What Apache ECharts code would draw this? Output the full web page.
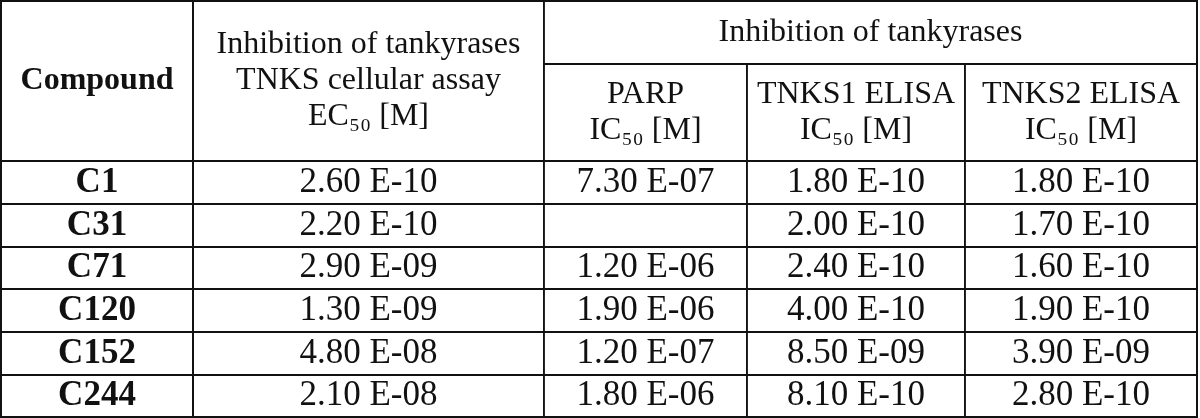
<!DOCTYPE html>
<html>
<head>
<meta charset="utf-8">
<script src="https://cdn.jsdelivr.net/npm/echarts@6/dist/echarts.min.js"></script>
<style>html,body{margin:0;padding:0;background:#fff}#c{width:1200px;height:418px}</style>
</head>
<body>
<div id="c"></div>
<script>
// ---- data ----
var compounds = ['C1', 'C31', 'C71', 'C120', 'C152', 'C244'];
var cellularEC50 = ['2.60 E-10', '2.20 E-10', '2.90 E-09', '1.30 E-09', '4.80 E-08', '2.10 E-08'];
var parpIC50 = ['7.30 E-07', '', '1.20 E-06', '1.90 E-06', '1.20 E-07', '1.80 E-06'];
var tnks1IC50 = ['1.80 E-10', '2.00 E-10', '2.40 E-10', '4.00 E-10', '8.50 E-09', '8.10 E-10'];
var tnks2IC50 = ['1.80 E-10', '1.70 E-10', '1.60 E-10', '1.90 E-10', '3.90 E-09', '2.80 E-10'];
var cornerLabel = 'Compound';
var cellularHeader = 'Inhibition of tankyrases\nTNKS cellular assay\nEC\u2085\u2080 [M]';
var groupHeader = 'Inhibition of tankyrases';
var subHeaders = ['PARP\nIC\u2085\u2080 [M]', 'TNKS1 ELISA\nIC\u2085\u2080 [M]', 'TNKS2 ELISA\nIC\u2085\u2080 [M]'];

// ---- layout / style ----
var SERIF = '"Liberation Serif", "DejaVu Serif", "Times New Roman", serif';
var INK = '#111';
var colSizes = [351, 203, 218, 232];
var levelSizes = [63, 97];
var BORDER = {color: '#fff', borderColor: INK, borderWidth: 1.8};
var LINE = {color: INK, width: 1.8};

var columns = [cellularEC50, parpIC50, tnks1IC50, tnks2IC50];
var bodyData = [];
columns.forEach(function (col, ci) {
  col.forEach(function (v, ri) {
    bodyData.push({coord: [ci, ri], value: v});
  });
});

var chart = echarts.init(document.getElementById('c'));
chart.setOption({
  animation: false,
  matrix: {
    left: 1, top: 1, right: 3, bottom: 1,
    backgroundStyle: {color: '#fff', borderColor: INK, borderWidth: 1.8},
    x: {
      data: [
        {value: cellularHeader, size: colSizes[0]},
        {value: groupHeader, children: [
          {value: subHeaders[0], size: colSizes[1]},
          {value: subHeaders[1], size: colSizes[2]},
          {value: subHeaders[2], size: colSizes[3]}
        ]}
      ],
      levels: [{levelSize: levelSizes[0]}, {levelSize: levelSizes[1]}],
      itemStyle: BORDER,
      dividerLineStyle: LINE,
      label: {fontFamily: SERIF, fontSize: 32, color: INK, lineHeight: 36,
              align: 'center', verticalAlign: 'middle'}
    },
    y: {
      data: compounds,
      levels: [{levelSize: 192}],
      itemStyle: BORDER,
      dividerLineStyle: LINE,
      label: {fontFamily: SERIF, fontSize: 35, fontWeight: 'bold', color: INK,
              align: 'center', verticalAlign: 'middle'}
    },
    corner: {
      data: [{coord: [-1, [-2, -1]], value: cornerLabel, mergeCells: true}],
      itemStyle: BORDER,
      label: {fontFamily: SERIF, fontSize: 32, fontWeight: 'bold', color: INK,
              align: 'center', verticalAlign: 'middle'}
    },
    body: {
      data: bodyData,
      itemStyle: BORDER,
      label: {fontFamily: SERIF, fontSize: 35, color: INK,
              align: 'center', verticalAlign: 'middle'}
    }
  }
});
</script>
</body>
</html>
